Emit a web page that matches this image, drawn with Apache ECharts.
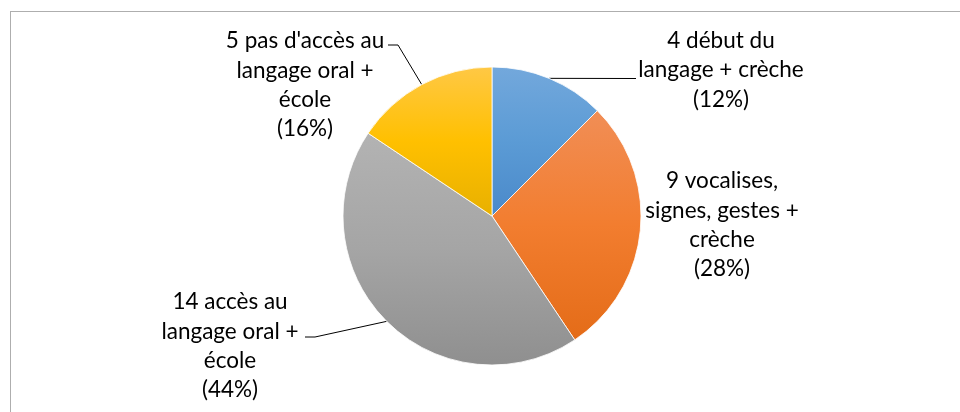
<!DOCTYPE html>
<html><head><meta charset="utf-8">
<script src="https://cdn.jsdelivr.net/npm/echarts@6/dist/echarts.min.js"></script>
<style>
html,body{margin:0;padding:0;background:#fff;overflow:hidden}
#frame{position:absolute;left:10px;top:11px;width:1000px;height:500px;border:1.5px solid #aeaeae;box-sizing:border-box}
#chart{position:absolute;left:0;top:0;width:960px;height:412px}
</style></head><body>
<div id="frame"></div><div id="chart"></div>
<script>
// Data
const categories = [
  "début du\nlangage + crèche",
  "vocalises,\nsignes, gestes +\ncrèche",
  "accès au\nlangage oral +\nécole",
  "pas d'accès au\nlangage oral +\nécole"
];
const values = [4, 9, 14, 5];

// Styles
const palette = [
  ["#73a8dc", "#5b9bd5", "#4a89ca"],
  ["#f18e56", "#f27d2f", "#e46c18"],
  ["#b3b3b3", "#a5a5a5", "#8f8f8f"],
  ["#ffc845", "#ffc000", "#e8b000"]
];
// label placement (block centre) and leader end point, in px
const labelPlace = [
  {x: 721, y: 70, end: [636, 78.5], elbow: 0},
  {x: 722, y: 225},
  {x: 230, y: 346, end: [305, 337], elbow: 10},
  {x: 305, y: 85, end: [388, 45], elbow: 10}
];

const chart = echarts.init(document.getElementById('chart'), null, {renderer: 'canvas'});
const data = categories.map((name, i) => ({
  name: name,
  value: values[i],
  itemStyle: {
    color: new echarts.graphic.LinearGradient(0, 0, 0, 1, [
      {offset: 0, color: palette[i][0]},
      {offset: 0.5, color: palette[i][1]},
      {offset: 1, color: palette[i][2]}
    ])
  },
  labelLine: {show: labelPlace[i].end !== undefined}
}));

chart.setOption({
  animation: false,
  backgroundColor: 'transparent',
  series: [{
    type: 'pie',
    center: [492, 216],
    radius: 149,
    startAngle: 90,
    clockwise: true,
    percentPrecision: 0,
    avoidLabelOverlap: false,
    itemStyle: {borderColor: '#ffffff', borderWidth: 0.8},
    label: {
      show: true,
      position: 'outside',
      formatter: p => p.value + ' ' + p.name + '\n(' + p.percent + '%)',
      fontFamily: 'Lato',
      fontSize: 22.5,
      lineHeight: 29.3,
      color: '#000000',
      align: 'center'
    },
    labelLine: {
      show: true,
      length: 10,
      length2: 10,
      lineStyle: {color: '#000000', width: 1}
    },
    emphasis: {disabled: true},
    labelLayout: function (params) {
      const lp = labelPlace[params.dataIndex];
      const out = {x: lp.x, y: lp.y, align: 'center', verticalAlign: 'middle'};
      if (lp.end && params.labelLinePoints) {
        const p0 = params.labelLinePoints[0];
        const dir = lp.end[0] > p0[0] ? -1 : 1;
        out.labelLinePoints = [
          [p0[0], p0[1]],
          [lp.end[0] + dir * lp.elbow, lp.end[1]],
          [lp.end[0], lp.end[1]]
        ];
      }
      return out;
    },
    data: data
  }]
});
</script>
</body></html>
